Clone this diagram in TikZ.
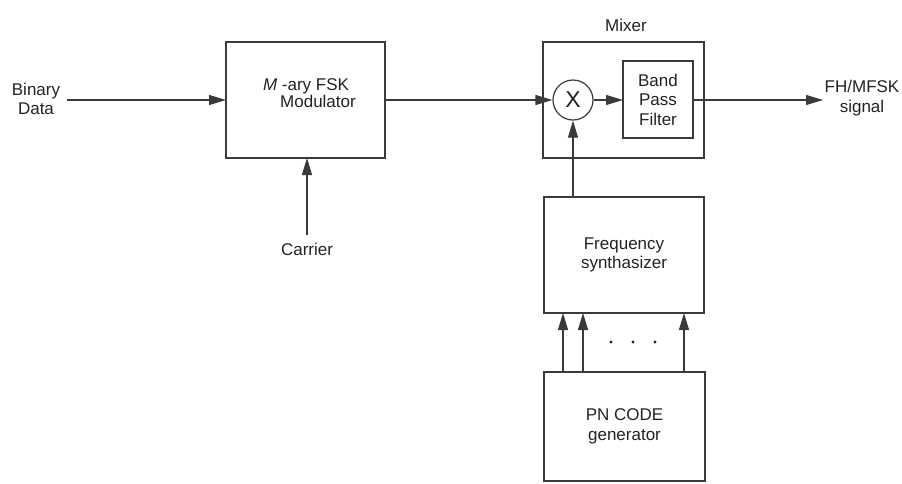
\documentclass[tikz,border=0pt]{standalone}
\usepackage{fontspec}
\setmainfont{Liberation Sans}
\usetikzlibrary{arrows.meta}
\definecolor{ln}{HTML}{3A3A3A}
\definecolor{txt}{HTML}{222222}
\begin{document}
\begin{tikzpicture}[x=1pt,y=-1pt,
  box/.style={draw=ln, line width=1.2pt, inner sep=0pt, outer sep=0pt, anchor=north west},
  lbl/.style={font=\fontsize{17}{19.5}\selectfont, align=center, text=txt, inner sep=0pt},
  arr/.style={draw=ln, line width=1.2pt, -{Triangle[length=17pt,width=10pt]}},
  dotm/.style={fill=txt, draw=none}]
\useasboundingbox (0,0) rectangle (902,483);
% boxes
\node[box, minimum width=159pt, minimum height=116pt] (mod) at (226,42) {};
\node[box, minimum width=161pt, minimum height=116pt] (mix) at (543,42) {};
\node[box, lbl, draw=ln, line width=1.2pt, anchor=north west, minimum width=70pt, minimum height=77pt] (bpf) at (623,61) {Band\\Pass\\Filter};
\node[box, lbl, draw=ln, line width=1.2pt, anchor=north west, minimum width=160pt, minimum height=116pt] (fs) at (544,197) {Frequency\\synthasizer};
\node[box, lbl, draw=ln, line width=1.2pt, anchor=north west, minimum width=161pt, minimum height=109pt] (pn) at (544,372) {PN CODE\\generator};
\node[circle, draw=ln, line width=1.2pt, minimum size=40pt, inner sep=0pt, text=txt, font=\fontsize{23}{23}\selectfont] (mult) at (573,100) {X};
% labels
\node[lbl] (bin) at (36,99) {Binary\\Data};
\node[lbl, anchor=base] (modt1) at (306,90) {\textit{M} -ary FSK};
\node[lbl, anchor=base] (modt2) at (318,107) {Modulator};
\node[lbl, anchor=base] (mixt) at (626,31) {Mixer};
\node[lbl] (outt) at (862,98) {FH/MFSK\\signal};
\node[lbl, anchor=base] (carr) at (307,255) {Carrier};
% connectors
\coordinate (binend) at (67,100);
\coordinate (outend) at (823,100);
\coordinate (carrend) at (307,235);
\draw[arr] (binend) -- (mod.west);
\draw[arr] (mod.east) -- (mult.west);
\draw[arr] (mult.east) -- (mult.east -| bpf.west);
\draw[arr] (mult.east -| bpf.east) -- (outend);
\draw[arr] (carrend) -- (carrend |- mod.south);
\draw[arr] (mult |- fs.north) -- (mult.south);
\draw[arr] ([xshift=19pt]pn.north west) -- ([xshift=19pt]fs.south west);
\draw[arr] ([xshift=39pt]pn.north west) -- ([xshift=39pt]fs.south west);
\draw[arr] ([xshift=140pt]pn.north west) -- ([xshift=140pt]fs.south west);
% dots
\fill[dotm] (611,342) circle (1.6pt);
\fill[dotm] (633,342) circle (1.6pt);
\fill[dotm] (655,342) circle (1.6pt);
\end{tikzpicture}
\end{document}
